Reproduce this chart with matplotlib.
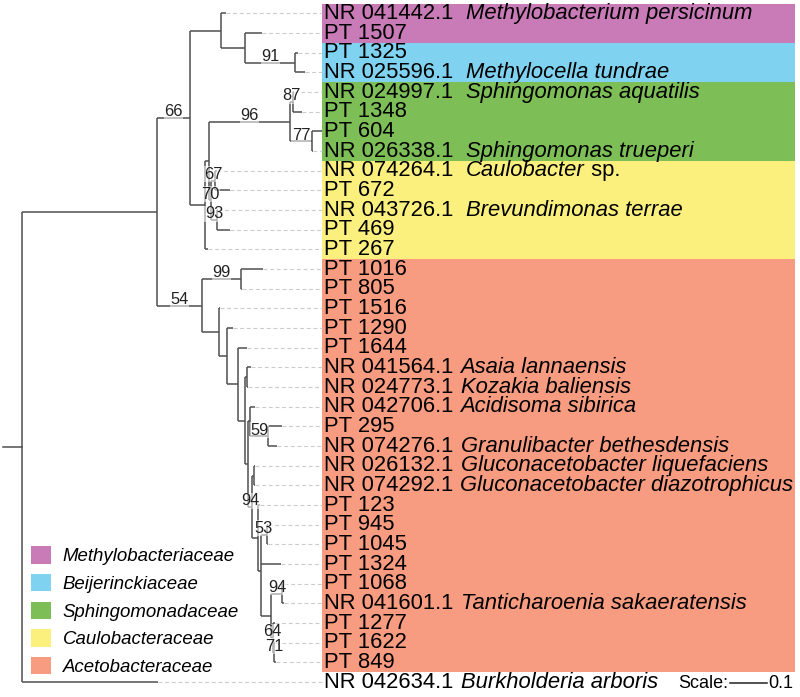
import matplotlib.pyplot as plt
from matplotlib.patches import Patch

plt.rcParams['font.family'] = ['Liberation Sans', 'DejaVu Sans']

# tips, top to bottom
accession = ["NR 041442.1", "PT 1507", "PT 1325", "NR 025596.1", "NR 024997.1",
             "PT 1348", "PT 604", "NR 026338.1", "NR 074264.1", "PT 672",
             "NR 043726.1", "PT 469", "PT 267", "PT 1016", "PT 805", "PT 1516",
             "PT 1290", "PT 1644", "NR 041564.1", "NR 024773.1", "NR 042706.1",
             "PT 295", "NR 074276.1", "NR 026132.1", "NR 074292.1", "PT 123",
             "PT 945", "PT 1045", "PT 1324", "PT 1068", "NR 041601.1", "PT 1277",
             "PT 1622", "PT 849", "NR 042634.1"]
species = ["Methylobacterium persicinum", "", "", "Methylocella tundrae",
           "Sphingomonas aquatilis", "", "", "Sphingomonas trueperi",
           "Caulobacter sp.", "", "Brevundimonas terrae", "", "", "", "", "", "",
           "", "Asaia lannaensis", "Kozakia baliensis", "Acidisoma sibirica", "",
           "Granulibacter bethesdensis", "Gluconacetobacter liquefaciens",
           "Gluconacetobacter diazotrophicus", "", "", "", "", "",
           "Tanticharoenia sakaeratensis", "", "", "", "Burkholderia arboris"]
tip_family = [0, 0, 1, 1, 2, 2, 2, 2, 3, 3, 3, 3, 3] + [4] * 21 + [None]

families = ["Methylobacteriaceae", "Beijerinckiaceae", "Sphingomonadaceae",
            "Caulobacteraceae", "Acetobacteraceae"]
family_colors = ["#c97bb7", "#7fd3f1", "#7dbf56", "#fbf07e", "#f79c81"]

# tree edges: node, parent, branch length (substitutions/site)
node = ["root", "ingroup", "NR 042634.1", "alpha", "aceto",
        "methylo", "x", "NR 041442.1", "m2", "PT 1507", "n91", "PT 1325",
        "NR 025596.1", "y", "PT 267", "n96", "n87", "NR 024997.1", "PT 1348",
        "n77", "PT 604", "NR 026338.1", "n70", "n67", "NR 074264.1", "PT 672",
        "n93", "NR 043726.1", "PT 469",
        "n99", "PT 1016", "PT 805", "r1", "PT 1516", "r2", "PT 1290", "r3",
        "PT 1644", "r4", "k", "NR 041564.1", "NR 024773.1", "r5", "r6",
        "NR 042706.1", "n59", "PT 295", "NR 074276.1", "n94a", "t",
        "NR 026132.1", "NR 074292.1", "s", "PT 123", "q", "n53", "PT 945",
        "PT 1045", "PT 1324", "p", "n94b", "PT 1068", "NR 041601.1", "n64",
        "PT 1277", "n71", "PT 1622", "PT 849"]
parent = [None, "root", "root", "ingroup", "ingroup",
          "alpha", "alpha", "methylo", "methylo", "m2", "m2", "n91",
          "n91", "x", "x", "y", "n96", "n87", "n87",
          "n96", "n77", "n77", "y", "n70", "n67", "n67",
          "n70", "n93", "n93",
          "aceto", "n99", "n99", "aceto", "r1", "r1", "r2", "r2",
          "r3", "r3", "r4", "k", "k", "r4", "r5",
          "r6", "r6", "n59", "n59", "r5", "n94a",
          "t", "t", "n94a", "s", "s", "q", "n53",
          "n53", "q", "q", "p", "n94b", "n94b", "p",
          "n64", "n64", "n71", "n71"]
length = [0.0, 0.365, 0.368, 0.089, 0.122,
          0.084, 0.041, 0.014, 0.065, 0.046, 0.135, 0.008,
          0.027, 0.011, 0.008, 0.219, 0.008, 0.003, 0.024,
          0.059, 0.027, 0.003, 0.005, 0.011, 0.005, 0.041,
          0.016, 0.003, 0.035,
          0.105, 0.059, 0.003, 0.046, 0.003, 0.022, 0.014, 0.030,
          0.024, 0.019, 0.003, 0.011, 0.003, 0.008, 0.005,
          0.014, 0.049, 0.038, 0.024, 0.011, 0.003,
          0.005, 0.003, 0.016, 0.005, 0.008, 0.014, 0.005,
          0.003, 0.054, 0.027, 0.030, 0.003, 0.005, 0.005,
          0.005, 0.003, 0.003, 0.005]
root_edge = 0.051

support_node = ["alpha", "aceto", "n91", "n96", "n87", "n77", "n67", "n70",
                "n93", "n99", "n59", "n94a", "n53", "n94b", "n64", "n71"]
support_value = [66, 54, 91, 96, 87, 77, 67, 70, 93, 99, 59, 94, 53, 94, 64, 71]

# layout of the tree
children = {}
xpos = {}
for n, p, bl in zip(node, parent, length):
    if p is None:
        xpos[n] = bl
    else:
        children.setdefault(p, []).append(n)
        xpos[n] = xpos[p] + bl
parent_of = dict(zip(node, parent))

ypos = {a: i for i, a in enumerate(accession)}


def get_y(n):
    if n not in ypos:
        ypos[n] = sum(get_y(c) for c in children[n]) / len(children[n])
    return ypos[n]


get_y("root")

fig = plt.figure(figsize=(8, 6.97), dpi=100)
ax = fig.add_axes([0, 0, 1, 1])
ax.set_xlim(-0.0595, 2.103)
ax.set_ylim(34.76, -0.68)
ax.axis("off")

label_x = 0.811
band_right = 2.089
line_col = "#505050"
txt_col = "#000000"

# family bands
rows = [i for i, f in enumerate(tip_family) if f is not None]
ax.barh(rows, band_right - label_x, left=label_x, height=1.0,
        color=[family_colors[tip_family[i]] for i in rows], linewidth=0, zorder=0)

# branches
ax.plot([-root_edge, 0], [ypos["root"]] * 2, color=line_col, lw=1.1)
for n in node:
    p = parent_of[n]
    if p is not None:
        ax.plot([xpos[p], xpos[n]], [ypos[n], ypos[n]], color=line_col, lw=1.1,
                solid_capstyle="butt")
    if n in children:
        ys = [ypos[c] for c in children[n]]
        ax.plot([xpos[n], xpos[n]], [min(ys), max(ys)], color=line_col, lw=1.1,
                solid_capstyle="butt")

# dashed guides and tip labels
for i, (acc, sp) in enumerate(zip(accession, species)):
    if xpos[acc] < label_x:
        ax.plot([xpos[acc], label_x], [i, i], color="#cccccc", lw=0.8,
                ls=(0, (3.5, 2.5)), zorder=1)
    t = ax.text(label_x + 0.006, i, acc, va="center", ha="left", fontsize=15.8,
                color=txt_col)
    if sp:
        gap = 9 if i < 13 else 5
        ital, rest = (sp[:-4], " sp.") if sp.endswith(" sp.") else (sp, "")
        a = ax.annotate(ital, xy=(1, 0), xycoords=t, xytext=(gap, 0),
                        textcoords="offset points", va="bottom", ha="left",
                        fontsize=15.8, style="italic", color=txt_col)
        if rest:
            ax.annotate(rest, xy=(1, 0), xycoords=a, va="bottom", ha="left",
                        fontsize=15.8, color=txt_col)

# bootstrap values
for n, v in zip(support_node, support_value):
    xm = (xpos[parent_of[n]] + xpos[n]) / 2
    ax.text(xm, ypos[n] - 0.08, str(v), ha="center", va="baseline",
            fontsize=11.8, color="#222222",
            bbox=dict(facecolor="white", alpha=0.55, edgecolor="none", pad=0.3))

# scale bar
sb_end = 2.0135
sb_y = 34.05
ax.plot([sb_end - 0.1, sb_end], [sb_y, sb_y], color="#222222", lw=1.1)
ax.text(sb_end - 0.1 - 0.004, sb_y, "Scale:", ha="right", va="center",
        fontsize=13, color=txt_col)
ax.text(sb_end + 0.003, sb_y, "0.1", ha="left", va="center", fontsize=13,
        color=txt_col)

# legend
handles = [Patch(facecolor=c, edgecolor="none", label=f)
           for f, c in zip(families, family_colors)]
ax.legend(handles=handles, loc="lower left", bbox_to_anchor=(31 / 800, 1 - 676 / 697),
          bbox_transform=fig.transFigure, frameon=False,
          prop={"style": "italic", "size": 13.4}, handlelength=1.07,
          handleheight=1.07, handletextpad=0.64, labelspacing=0.46,
          borderpad=0, borderaxespad=0)

fig.savefig("out.png", dpi=100)
